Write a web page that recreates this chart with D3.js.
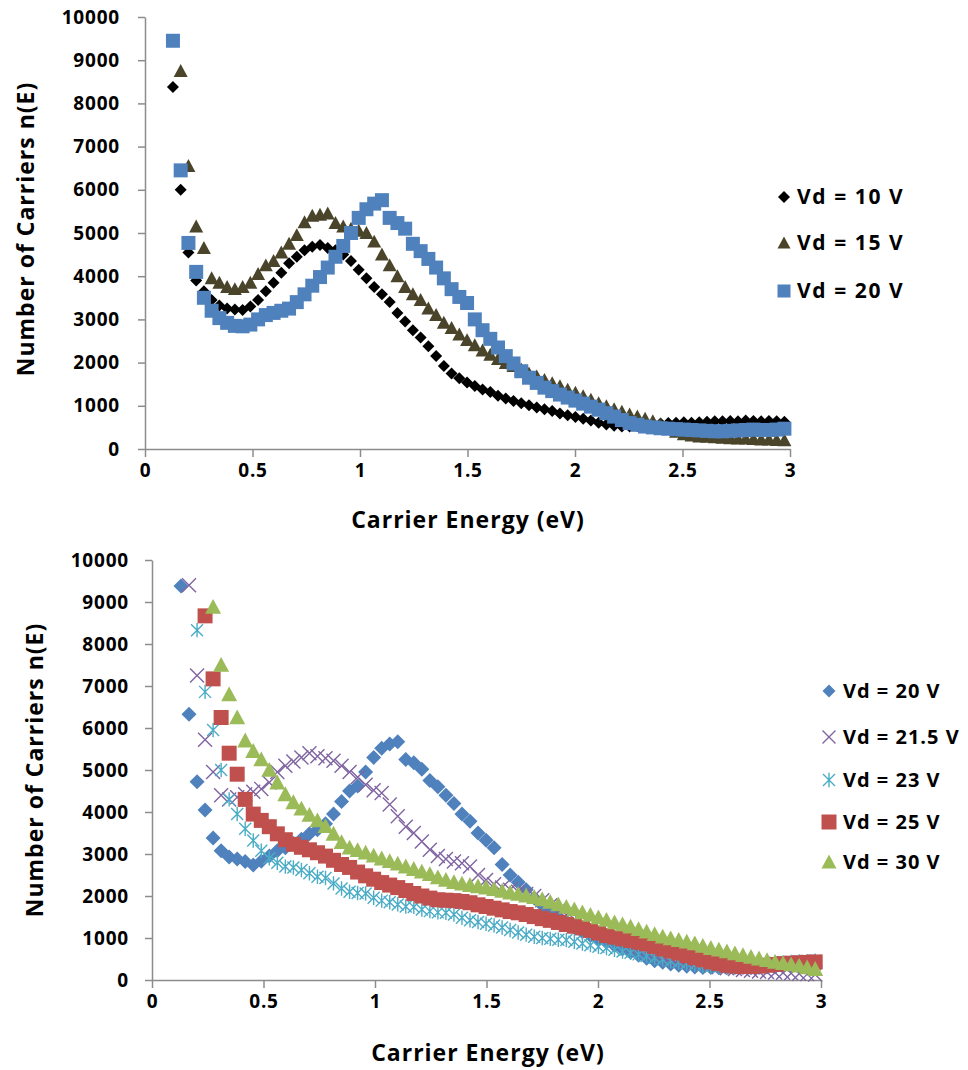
<!DOCTYPE html>
<html>
<head>
<meta charset="utf-8">
<script src="https://cdn.jsdelivr.net/npm/d3@7"></script>
<style>
  body { margin: 0; background: #fff; }
  svg text { font-family: "Open Sans", Lato, sans-serif; font-weight: 700; fill: #000; }
</style>
</head>
<body>
<svg id="chart" width="968" height="1070"></svg>
<script>
// Carrier energy grid (eV), shared by every series
const energy = [
  0.13, 0.166, 0.202, 0.238, 0.274, 0.31, 0.346, 0.382, 0.418, 0.454,
  0.49, 0.526, 0.562, 0.598, 0.634, 0.67, 0.706, 0.742, 0.778, 0.814,
  0.85, 0.886, 0.922, 0.958, 0.994, 1.03, 1.066, 1.102, 1.138, 1.174,
  1.21, 1.246, 1.282, 1.318, 1.354, 1.39, 1.426, 1.462, 1.498, 1.534,
  1.57, 1.606, 1.642, 1.678, 1.714, 1.75, 1.786, 1.822, 1.858, 1.894,
  1.93, 1.966, 2.002, 2.038, 2.074, 2.11, 2.146, 2.182, 2.218, 2.254,
  2.29, 2.326, 2.362, 2.398, 2.434, 2.47, 2.506, 2.542, 2.578, 2.614,
  2.65, 2.686, 2.722, 2.758, 2.794, 2.83, 2.866, 2.902, 2.938, 2.974
];

const xTicks = [0, 0.5, 1, 1.5, 2, 2.5, 3];
const yTicks = [0, 1000, 2000, 3000, 4000, 5000, 6000, 7000, 8000, 9000, 10000];

// Upper panel: n(E) for Vd = 10, 15, 20 V (null = above the axis range)
const topVd10 = [
  8380, 6000, 4550, 3900, 3650, 3450, 3320, 3250, 3230, 3220,
  3300, 3450, 3650, 3850, 4080, 4300, 4450, 4600, 4680, 4720,
  4650, 4600, 4500, 4350, 4150, 3950, 3750, 3580, 3400, 3150,
  2950, 2750, 2580, 2380, 2150, 1920, 1750, 1640, 1540, 1460,
  1380, 1320, 1230, 1170, 1110, 1060, 1010, 960, 920, 880,
  820, 780, 740, 700, 660, 610, 570, 540, 520, 520,
  530, 550, 570, 590, 600, 610, 620, 610, 620, 630,
  640, 640, 650, 640, 660, 650, 640, 650, 640, 630
];
const topVd15 = [
  null, 8750, 6550, 5150, 4650, 3950, 3850, 3750, 3700, 3750,
  3850, 4050, 4250, 4350, 4550, 4750, 4950, 5250, 5400, 5420,
  5450, 5230, 5150, 5100, 5050, 5000, 4800, 4500, 4250, 4000,
  3750, 3580, 3450, 3250, 3100, 2920, 2800, 2650, 2520, 2400,
  2280, 2180, 2080, 1990, 1920, 1840, 1750, 1680, 1600, 1520,
  1450, 1370, 1300, 1220, 1140, 1060, 990, 920, 860, 800,
  750, 700, 640, 560, 480, 400, 340, 310, 290, 280,
  270, 260, 250, 240, 240, 230, 220, 220, 210, 200
];
const topVd20 = [
  9450, 6450, 4770, 4100, 3500, 3200, 3030, 2920, 2850, 2840,
  2880, 3000, 3100, 3150, 3200, 3250, 3400, 3580, 3780, 3980,
  4200, 4450, 4700, 5000, 5350, 5550, 5680, 5760, 5350, 5230,
  5100, 4750, 4580, 4400, 4200, 3950, 3700, 3520, 3380, 3000,
  2750, 2550, 2350, 2150, 1980, 1800, 1650, 1530, 1420, 1340,
  1260, 1190, 1120, 1050, 980, 910, 830, 750, 670, 600,
  560, 520, 500, 480, 470, 460, 450, 440, 430, 420,
  410, 410, 420, 430, 440, 450, 440, 440, 450, 470
];

// Lower panel: n(E) for Vd = 20, 21.5, 23, 25, 30 V
const botVd20 = [
  9380, 6330, 4720, 4050, 3380, 3080, 2930, 2880, 2820, 2740,
  2830, 2950, 3080, 3150, 3250, 3350, 3480, 3580, 3720, 3950,
  4250, 4500, 4620, 4950, 5300, 5520, 5620, 5670, 5250, 5170,
  5020, 4750, 4600, 4400, 4200, 3950, 3780, 3500, 3330, 3150,
  2750, 2500, 2330, 2150, 1950, 1780, 1620, 1480, 1360, 1250,
  1150, 1060, 980, 900, 820, 740, 660, 590, 520, 460,
  420, 380, 350, 330, 310, 300, 300, 290, 290, 300,
  300, 290, 300, 310, 310, 320, 320, 330, 340, 350
];
const botVd215 = [
  null, 9400, 7250, 5720, 4950, 4400, 4300, 4350, 4420, 4480,
  4550, 4700, 4950, 5100, 5200, 5300, 5400, 5330, 5280, 5220,
  5100, 4950, 4830, 4650, 4520, 4450, 4180, 3900, 3650, 3500,
  3300, 3100, 2950, 2880, 2820, 2780, 2700, 2500, 2380, 2280,
  2200, 2150, 2100, 2050, 2000, 1900, 1780, 1660, 1550, 1440,
  1350, 1260, 1170, 1090, 1010, 930, 850, 780, 710, 650,
  590, 540, 490, 450, 410, 370, 340, 310, 280, 260,
  240, 220, 200, 190, 180, 170, 160, 150, 140, 130
];
const botVd23 = [
  null, null, 8330, 6860, 5950, 5000, 4300, 3950, 3600, 3320,
  3080, 2900, 2790, 2700, 2680, 2620, 2540, 2460, 2430, 2300,
  2180, 2100, 2070, 2060, 1960, 1890, 1850, 1800, 1750, 1740,
  1680, 1640, 1610, 1600, 1560, 1480, 1420, 1380, 1340, 1300,
  1250, 1190, 1130, 1080, 1030, 1000, 980, 960, 950, 910,
  870, 830, 790, 760, 720, 680, 650, 610, 570, 530,
  490, 460, 430, 400, 370, 340, 320, 310, 310, 320,
  330, 350, 370, 390, 410, 420, 430, 440, 450, 460
];
const botVd25 = [
  null, null, null, 8670, 7170, 6250, 5400, 4900, 4300, 3950,
  3800, 3650, 3480, 3340, 3230, 3160, 3100, 3030, 2950, 2850,
  2750, 2680, 2570, 2480, 2400, 2320, 2260, 2200, 2130, 2060,
  2000, 1950, 1910, 1900, 1890, 1870, 1840, 1790, 1750, 1710,
  1670, 1630, 1600, 1560, 1510, 1460, 1420, 1370, 1320, 1280,
  1240, 1180, 1120, 1060, 1020, 980, 940, 900, 860, 800,
  740, 690, 640, 580, 530, 480, 430, 390, 350, 330,
  320, 320, 330, 350, 370, 390, 400, 410, 420, 430
];
const botVd30 = [
  null, null, null, null, 8880, 7500, 6800, 6250, 5700, 5450,
  5250, 5000, 4700, 4420, 4230, 4080, 3930, 3800, 3660, 3480,
  3280, 3150, 3090, 3030, 2960, 2890, 2830, 2770, 2700, 2640,
  2580, 2520, 2440, 2380, 2330, 2290, 2260, 2230, 2200, 2160,
  2120, 2080, 2050, 2010, 1970, 1920, 1860, 1800, 1740, 1680,
  1610, 1550, 1490, 1430, 1370, 1320, 1270, 1210, 1150, 1090,
  1030, 990, 950, 910, 870, 810, 760, 720, 680, 630,
  590, 550, 510, 470, 430, 400, 370, 340, 300, 260
];

const topLabels = ["Vd = 10 V", "Vd = 15 V", "Vd = 20 V"];
const botLabels = ["Vd = 20 V", "Vd = 21.5 V", "Vd = 23 V", "Vd = 25 V", "Vd = 30 V"];

// Marker shapes, drawn around (0,0)
function markerPath(kind, s) {
  const h = s / 2;
  switch (kind) {
    case "diamond": return `M0,${-h}L${h},0L0,${h}L${-h},0Z`;
    case "square":  return `M${-h},${-h}H${h}V${h}H${-h}Z`;
    case "triangle": return `M0,${-h}L${h},${h * 0.85}L${-h},${h * 0.85}Z`;
    case "cross":   return `M${-h},${-h}L${h},${h}M${h},${-h}L${-h},${h}`;
    case "star":    return `M${-h},${-h}L${h},${h}M${h},${-h}L${-h},${h}M0,${-h * 1.2}V${h * 1.2}`;
  }
}
const stroked = new Set(["cross", "star"]);

const svg = d3.select("#chart");

function drawPanel(p) {
  const x = d3.scaleLinear().domain([0, 3]).range([p.left, p.right]);
  const y = d3.scaleLinear().domain([0, 10000]).range([p.bottom, p.top]);
  const g = svg.append("g");

  const yAxis = d3.axisLeft(y).tickValues(yTicks).tickFormat(d3.format("d"))
    .tickSize(7).tickSizeOuter(0).tickPadding(p.yPad);
  const xAxis = d3.axisBottom(x).tickValues(xTicks).tickFormat(d => String(d))
    .tickSize(8).tickSizeOuter(0).tickPadding(p.xPad);

  const ya = g.append("g").attr("transform", `translate(${p.left},0)`).call(yAxis);
  const xa = g.append("g").attr("transform", `translate(0,${p.bottom})`).call(xAxis);
  [ya, xa].forEach(a => {
    a.select(".domain").attr("stroke", "#8c8c8c").attr("stroke-width", 1.5);
    a.selectAll(".tick line").attr("stroke", "#8c8c8c").attr("stroke-width", 1.5);
    a.selectAll(".tick text").attr("font-size", p.tickFont)
      .attr("letter-spacing", p.tickSpacing).attr("fill", "#000");
  });

  // Series markers
  p.series.forEach(s => {
    const pts = energy.map((e, i) => [e, s.values[i]]).filter(d => d[1] != null);
    g.append("g").selectAll("path").data(pts).join("path")
      .attr("transform", d => `translate(${x(d[0])},${y(d[1])})`)
      .attr("d", markerPath(s.shape, s.size))
      .attr("fill", stroked.has(s.shape) ? "none" : s.color)
      .attr("stroke", stroked.has(s.shape) ? s.color : "none")
      .attr("stroke-width", stroked.has(s.shape) ? 1.4 : 0);
  });

  // Legend
  p.series.forEach((s, i) => {
    const ly = p.legendY[i];
    g.append("path")
      .attr("transform", `translate(${p.legendX},${ly})`)
      .attr("d", markerPath(s.shape, s.legendSize))
      .attr("fill", stroked.has(s.shape) ? "none" : s.color)
      .attr("stroke", stroked.has(s.shape) ? s.color : "none")
      .attr("stroke-width", stroked.has(s.shape) ? 1.4 : 0);
    g.append("text")
      .attr("x", p.legendX + p.legendGap).attr("y", ly)
      .attr("dy", "0.35em").attr("font-size", p.legendFont)
      .attr("letter-spacing", p.legendSpacing)
      .text(s.label);
  });

  // Axis titles
  g.append("text").attr("x", p.xTitle[0]).attr("y", p.xTitle[1])
    .attr("text-anchor", "middle").attr("dy", "0.35em")
    .attr("font-size", p.titleFont).attr("letter-spacing", p.titleSpacing)
    .text("Carrier Energy (eV)");
  g.append("text")
    .attr("transform", `translate(${p.yTitle[0]},${p.yTitle[1]}) rotate(-90)`)
    .attr("text-anchor", "middle").attr("dy", "0.35em")
    .attr("font-size", p.titleFont).attr("letter-spacing", p.titleSpacing)
    .text("Number of Carriers n(E)");
}

drawPanel({
  left: 145, right: 790, top: 17, bottom: 449,
  yPad: 18, xPad: 7, tickFont: 19, tickSpacing: 0.8,
  titleFont: 23, titleSpacing: 1.0,
  legendFont: 21, legendSpacing: 1.6,
  xTitle: [468, 520], yTitle: [26, 229],
  legendX: 784, legendGap: 13, legendY: [197, 243, 291],
  series: [
    { label: topLabels[0], values: topVd10, shape: "diamond",  size: 12, legendSize: 12, color: "#000000" },
    { label: topLabels[1], values: topVd15, shape: "triangle", size: 14, legendSize: 13, color: "#4a452a" },
    { label: topLabels[2], values: topVd20, shape: "square",   size: 14, legendSize: 13, color: "#4f81bd" }
  ]
});

drawPanel({
  left: 152, right: 821, top: 560, bottom: 980,
  yPad: 16, xPad: 7, tickFont: 19, tickSpacing: 0.8,
  titleFont: 23, titleSpacing: 1.0,
  legendFont: 20, legendSpacing: 1.0,
  xTitle: [488, 1053], yTitle: [35, 770],
  legendX: 829, legendGap: 14, legendY: [691, 737, 780, 822, 862],
  series: [
    { label: botLabels[0], values: botVd20,  shape: "diamond",  size: 15, legendSize: 13, color: "#4f81bd" },
    { label: botLabels[1], values: botVd215, shape: "cross",    size: 14, legendSize: 13, color: "#8064a2" },
    { label: botLabels[2], values: botVd23,  shape: "star",     size: 12, legendSize: 12, color: "#4bacc6" },
    { label: botLabels[3], values: botVd25,  shape: "square",   size: 15, legendSize: 15, color: "#c0504d" },
    { label: botLabels[4], values: botVd30,  shape: "triangle", size: 16, legendSize: 15, color: "#9bbb59" }
  ]
});
</script>
</body>
</html>
